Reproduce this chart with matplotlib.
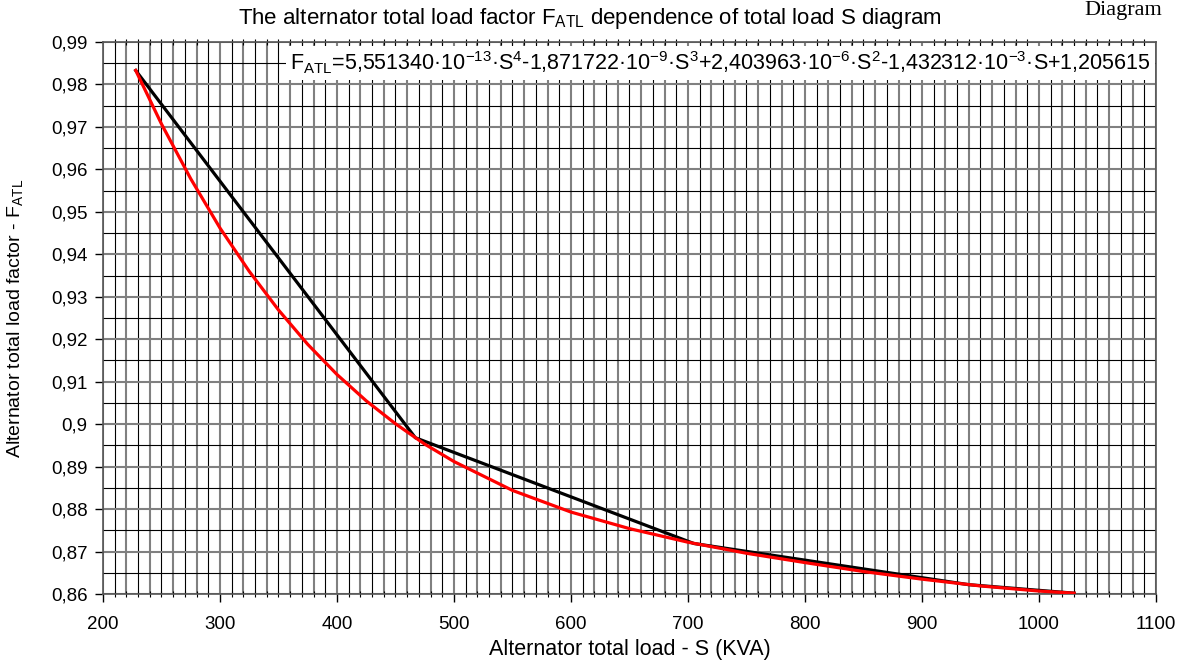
import numpy as np
import matplotlib
matplotlib.use("Agg")
import matplotlib.pyplot as plt

plt.rcParams['font.family'] = ['Liberation Sans', 'DejaVu Sans']
plt.rcParams['mathtext.fontset'] = 'custom'
plt.rcParams['mathtext.rm'] = 'Liberation Sans'
plt.rcParams['mathtext.it'] = 'Liberation Sans:italic'

# measured points (black polyline)
load_meas = [228, 467, 705, 940, 1030]
fatl_meas = [0.9833, 0.8968, 0.8719, 0.8622, 0.8602]

# fitted curve
load_fit = [228, 250, 275, 300, 325, 350, 375, 400, 425, 450, 475, 500,
            550, 600, 650, 700, 750, 800, 850, 900, 950, 1000, 1030]
fatl_fit = [0.9833, 0.9707, 0.9578, 0.9462, 0.9360, 0.9269, 0.9188, 0.9117,
            0.9055, 0.9001, 0.8953, 0.8912, 0.8844, 0.8793, 0.8754, 0.8722,
            0.8696, 0.8674, 0.8653, 0.8635, 0.8619, 0.8607, 0.8602]

x_ticks = [200, 300, 400, 500, 600, 700, 800, 900, 1000, 1100]
y_ticks = [0.86, 0.87, 0.88, 0.89, 0.90, 0.91, 0.92, 0.93, 0.94, 0.95, 0.96, 0.97, 0.98, 0.99]
y_labels = ["0,86", "0,87", "0,88", "0,89", "0,9", "0,91", "0,92", "0,93",
            "0,94", "0,95", "0,96", "0,97", "0,98", "0,99"]

fig = plt.figure(figsize=(11.85, 6.64), dpi=100)
ax = fig.add_axes([0.0869, 0.1054, 0.8886, 0.8313])
ax.set_xlim(200, 1100)
ax.set_ylim(0.86, 0.99)

# grid: every 10 kVA and every 0.005, alternating gray / black
xs = np.arange(200, 1101, 10)
for i, xv in enumerate(xs):
    if i % 2 == 0:
        ax.axvline(xv, color='#808080', lw=1.5, zorder=1)
    else:
        ax.axvline(xv, color='black', lw=0.8, zorder=1)
ys = np.arange(0.86, 0.9901, 0.005)
for i, yv in enumerate(ys):
    if i % 2 == 0:
        ax.axhline(yv, color='#808080', lw=1.5, zorder=1)
    else:
        ax.axhline(yv, color='black', lw=0.8, zorder=1)

ax.plot(load_meas, fatl_meas, color='black', lw=2.3, zorder=3)
ax.plot(load_fit, fatl_fit, color='red', lw=2.3, zorder=4)

ax.set_xticks(x_ticks)
ax.set_xticklabels([str(v) for v in x_ticks])
ax.set_xticks(np.arange(200, 1101, 10), minor=True)
ax.set_yticks(y_ticks)
ax.set_yticklabels(y_labels)
ax.tick_params(axis='x', which='major', direction='out', length=6, width=1,
               pad=10, labelsize=13.5)
ax.tick_params(axis='x', which='minor', direction='inout', length=5, width=0.8, top=True)
ax.tick_params(axis='y', which='major', direction='out', length=6, width=1,
               pad=5, labelsize=13.5)
for s in ax.spines.values():
    s.set_color('#555555')
    s.set_linewidth(1.2)

ax.set_xlabel("Alternator total load - S (KVA)", fontsize=15.5, labelpad=4)
ax.set_ylabel(r"Alternator total load factor - F$_{\mathregular{ATL}}$", fontsize=14, labelpad=2)
ax.yaxis.set_label_coords(-0.074, 0.5)

eq = ("F$_{\\mathregular{ATL}}$=5,551340·10$^{\\mathregular{-13}}$·S$^{\\mathregular{4}}$"
      "-1,871722·10$^{\\mathregular{-9}}$·S$^{\\mathregular{3}}$"
      "+2,403963·10$^{\\mathregular{-6}}$·S$^{\\mathregular{2}}$"
      "-1,432312·10$^{\\mathregular{-3}}$·S+1,205615")
ax.text(0.995, 0.962, eq, transform=ax.transAxes, ha='right', va='center', fontsize=15.5,
        zorder=5, bbox=dict(facecolor='white', edgecolor='none', pad=3))

fig.text(0.498, 0.972, r"The alternator total load factor F$_{\mathregular{ATL}}$ dependence of total load S diagram",
         ha='center', va='center', fontsize=16)
fig.text(0.915, 0.998, "Diagram", family='Liberation Serif', fontsize=16, ha='left', va='top')

fig.savefig("out.png", dpi=100)
